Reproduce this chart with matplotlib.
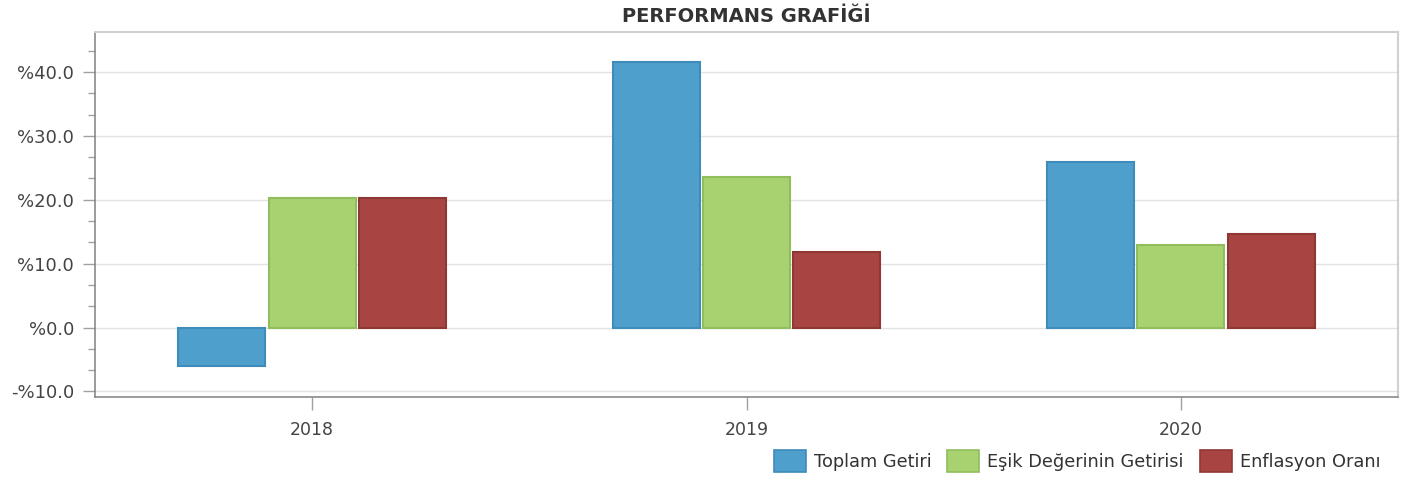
import matplotlib
matplotlib.use("Agg")
import matplotlib.pyplot as plt
from matplotlib.ticker import MultipleLocator, FuncFormatter
from matplotlib.patches import Patch
import numpy as np

categories = ["2018", "2019", "2020"]
toplam_getiri = [-6.1, 41.6, 25.9]
esik_getirisi = [20.2, 23.5, 12.9]
enflasyon = [20.2, 11.8, 14.6]
series_names = ["Toplam Getiri", "Eşik Değerinin Getirisi", "Enflasyon Oranı"]
title = "PERFORMANS GRAFİĞİ"

fills = ["#4E9FCC", "#A8D26F", "#A84542"]
edges = ["#3F8BBA", "#90BE5C", "#8F3735"]

fig = plt.figure(figsize=(14.1, 4.8), dpi=100)
ax = fig.add_axes([95/1410, 83/480, (1398-95)/1410, (397-32)/480])

x = np.arange(len(categories))
offs = [-0.208, 0.0, 0.208]
for vals, off, fc, ec, name in zip([toplam_getiri, esik_getirisi, enflasyon], offs, fills, edges, series_names):
    ax.bar(x + off, vals, width=0.2, color=fc, edgecolor=ec, linewidth=1.5, label=name, zorder=3)

ax.set_xlim(-0.5, 2.5)
ax.set_ylim(-10.88, 46.26)
ax.yaxis.set_major_locator(MultipleLocator(10))
ax.yaxis.set_minor_locator(MultipleLocator(10/3))
ax.yaxis.set_major_formatter(FuncFormatter(lambda v, p: ("-%" if v < -0.01 else "%") + f"{abs(v):.1f}"))
ax.set_xticks(x)
ax.set_xticklabels(categories)

ax.grid(axis="y", which="major", color="#E3E3E3", linewidth=1, zorder=0)
ax.set_axisbelow(True)

for side in ["left", "bottom"]:
    ax.spines[side].set_color("#8A8A8A")
    ax.spines[side].set_linewidth(1.2)
for side in ["top", "right"]:
    ax.spines[side].set_color("#D0D0D0")
    ax.spines[side].set_linewidth(1.5)

ax.tick_params(axis="y", which="major", length=9, width=1, color="#A0A0A0",
               labelsize=13, labelcolor="#444444", pad=6)
ax.tick_params(axis="y", which="minor", length=5, width=1, color="#A0A0A0")
ax.tick_params(axis="x", which="major", length=9, width=1, color="#A0A0A0",
               labelsize=12.5, labelcolor="#444444", pad=8)

fig.text((95+1398)/2/1410, 1 - 16/480, title, ha="center", va="center",
         fontsize=14, fontweight="bold", color="#333333")

handles = [Patch(facecolor=fc, edgecolor=ec, linewidth=1.2) for fc, ec in zip(fills, edges)]
leg = fig.legend(handles, series_names, loc="center right", bbox_to_anchor=(1380/1410, 1 - 461/480),
                 ncol=3, frameon=False, fontsize=12.8, handlelength=1.8, handleheight=1.5,
                 handletextpad=0.45, columnspacing=0.9, borderaxespad=0, borderpad=0)
for t in leg.get_texts():
    t.set_color("#333333")

fig.savefig("out.png", dpi=100)
